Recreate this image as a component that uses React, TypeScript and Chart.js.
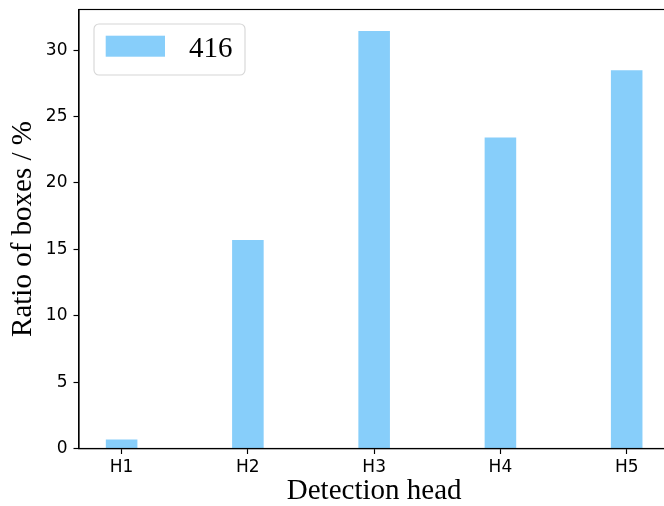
import React, { useEffect, useRef } from 'react';
import { Chart, registerables } from 'chart.js';

Chart.register(...registerables);

const categories: string[] = ['H1', 'H2', 'H3', 'H4', 'H5'];
const ratios: number[] = [0.68, 15.7, 31.45, 23.42, 28.49];
const seriesLabel = '416';
const yTickValues: number[] = [0, 5, 10, 15, 20, 25, 30];
const xLabel = 'Detection head';
const yLabel = 'Ratio of boxes / %';

const SERIF = '"Liberation Serif", "Times New Roman", serif';
const SANS = '"DejaVu Sans", sans-serif';
const BAR_COLOR = '#87CEFA';

const framePlugin = {
  id: 'frameAndLegend',
  afterDatasetsDraw(chart: any) {
    const { ctx, chartArea: a } = chart;
    ctx.save();
    ctx.strokeStyle = '#000';
    ctx.lineWidth = 1.15;
    ctx.strokeRect(a.left, a.top, a.right - a.left, a.bottom - a.top);

    const ds = chart.data.datasets[0];
    const x0 = a.left + 15;
    const y0 = a.top + 14.5;
    const w = 151;
    const h = 51;
    ctx.beginPath();
    ctx.roundRect(x0, y0, w, h, 5);
    ctx.fillStyle = 'rgba(255,255,255,0.8)';
    ctx.fill();
    ctx.strokeStyle = '#d6d6d6';
    ctx.lineWidth = 1.1;
    ctx.stroke();
    ctx.fillStyle = ds.backgroundColor;
    ctx.fillRect(x0 + 11.7, y0 + 11.7, 59.3, 21);
    ctx.fillStyle = '#000';
    ctx.font = `29px ${SERIF}`;
    ctx.textBaseline = 'alphabetic';
    ctx.textAlign = 'left';
    ctx.fillText(ds.label, x0 + 95, y0 + 33);
    ctx.restore();
  },
};

export default function App() {
  const canvasRef = useRef<HTMLCanvasElement | null>(null);

  useEffect(() => {
    document.body.style.margin = '0';
    const canvas = canvasRef.current;
    if (!canvas) return;
    const chart = new Chart(canvas, {
      type: 'bar',
      data: {
        datasets: [
          {
            label: seriesLabel,
            data: categories.map((_, i) => ({ x: i, y: ratios[i] })),
            backgroundColor: BAR_COLOR,
            borderWidth: 0,
            barPercentage: 0.25,
            categoryPercentage: 1,
          },
        ],
      },
      options: {
        animation: false,
        responsive: false,
        devicePixelRatio: 1,
        layout: { padding: { top: 9.5, right: 0.7, left: 0, bottom: 0 } },
        plugins: {
          legend: { display: false },
          tooltip: { enabled: false },
        },
        scales: {
          x: {
            type: 'linear',
            min: -0.3375,
            max: 4.3375,
            offset: false,
            afterBuildTicks: (scale: any) => {
              scale.ticks = categories.map((_, i) => ({ value: i }));
            },
            afterFit: (scale: any) => {
              scale.height = 57.5;
              scale.paddingLeft = 0;
              scale.paddingRight = 0;
            },
            ticks: {
              callback: (v: any) => categories[Math.round(Number(v))] ?? '',
              font: { family: SANS, size: 17 },
              color: '#000',
              padding: 3,
              maxRotation: 0,
              autoSkip: false,
            },
            grid: {
              display: true,
              offset: false,
              drawOnChartArea: false,
              drawTicks: true,
              tickLength: 5.5,
              tickColor: '#000',
              tickWidth: 1.15,
            },
            border: { display: true, color: '#000', width: 1.15 },
            title: {
              display: true,
              text: xLabel,
              font: { family: SERIF, size: 29, lineHeight: 1 },
              color: '#000',
              padding: { top: 0, bottom: 0 },
            },
          },
          y: {
            type: 'linear',
            min: 0,
            max: 33.06,
            afterBuildTicks: (scale: any) => {
              scale.ticks = yTickValues.map((v) => ({ value: v }));
            },
            afterFit: (scale: any) => {
              scale.width = 79;
              scale.paddingTop = 0;
              scale.paddingBottom = 0;
            },
            ticks: {
              font: { family: SANS, size: 17 },
              color: '#000',
              padding: 6,
            },
            grid: {
              display: true,
              drawOnChartArea: false,
              drawTicks: true,
              tickLength: 5.5,
              tickColor: '#000',
              tickWidth: 1.15,
            },
            border: { display: true, color: '#000', width: 1.15 },
            title: {
              display: true,
              text: yLabel,
              font: { family: SERIF, size: 29, lineHeight: 1 },
              color: '#000',
              padding: { top: 8.5, bottom: 0 },
            },
          },
        },
      },
      plugins: [framePlugin],
    } as any);
    return () => chart.destroy();
  }, []);

  return (
    <div style={{ width: 664, height: 506, overflow: 'hidden' }}>
      <canvas ref={canvasRef} width={670} height={506} style={{ display: 'block' }} />
    </div>
  );
}
